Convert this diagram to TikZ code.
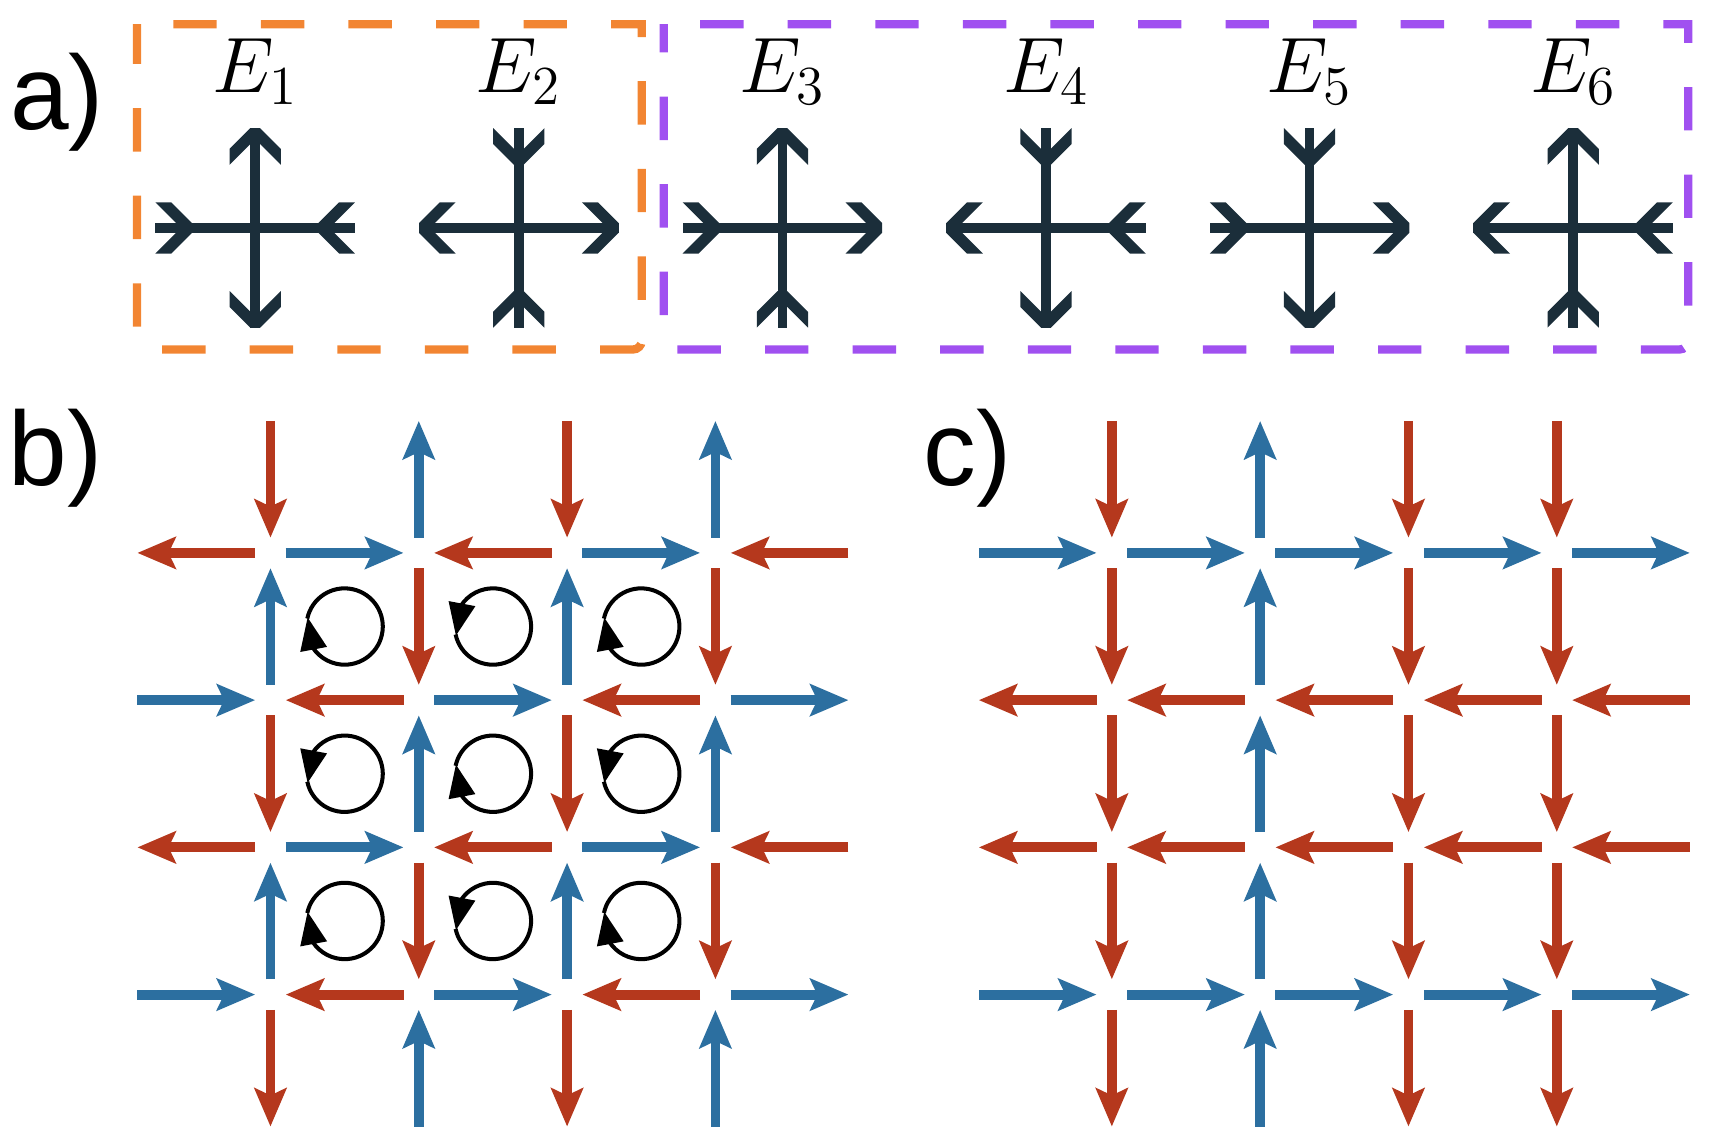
\RequirePackage{fix-cm}
\documentclass[tikz,border=0pt]{standalone}
\usepackage[no-math]{fontspec}
\newfontfamily\panelfont{Liberation Sans}
\usetikzlibrary{arrows.meta,bending,calc}

\definecolor{latred}{HTML}{B5381D}
\definecolor{latblue}{HTML}{2C6FA0}
\definecolor{ink}{HTML}{1B2E3A}
\definecolor{boxorange}{HTML}{F28532}
\definecolor{boxpurple}{HTML}{A050F0}

\tikzset{
  chev/.pic={\fill[ink] (-0.0445,0) -- (0.0445,0) -- (0.235,-0.1905) -- (0.235,-0.336)
    -- (0.0445,-0.1455) -- (-0.0445,-0.1455) -- (-0.235,-0.336) -- (-0.235,-0.1905) -- cycle;}
}

\begin{document}
\begin{tikzpicture}[
  panel/.style={font=\panelfont\fontsize{27.5}{30}\selectfont, anchor=base west, inner sep=0pt},
  elabel/.style={font=\fontsize{20.5}{24}\selectfont, anchor=base, inner sep=0pt},
  arm/.style={draw=ink, line width=0.089cm},
  dashbox/.style={draw=#1, line width=0.076cm,
    dash pattern=on 0.398cm off 0.405cm, dash phase=0.47cm},
  flux/.style={draw=#1, line width=0.09cm, shorten <=0.14cm, shorten >=0.14cm,
    -{Stealth[length=0.35cm, width=0.29cm, inset=0.065cm]}},
  vortex/.style={draw=black, line width=1.05pt, -{Triangle[length=0.3cm, width=0.24cm, flex]}}
]
  \useasboundingbox (0,0) rectangle (15.68,10.45);

  % panel labels
  \node[panel] (la) at (0.087,9.26) {a)};
  \node[panel] (lb) at (0.075,6.00) {b)};
  \node[panel] (lc) at (8.46,6.00) {c)};

  % a) vertex configurations
  \draw[dashbox=boxorange] (1.256,10.228) -- (5.884,10.228) [rounded corners=0.08cm]
    -- (5.884,7.245) -- (1.256,7.245) [sharp corners] -- cycle;
  \draw[dashbox=boxpurple] (6.087,10.228) -- (15.48,10.228) [rounded corners=0.08cm]
    -- (15.48,7.245) -- (6.087,7.245) [sharp corners] -- cycle;

  \foreach \k/\armU/\armD/\armL/\armR in {1/o/o/i/i, 2/i/i/o/o, 3/o/i/i/o, 4/i/o/o/i, 5/i/o/i/o, 6/o/i/o/i} {
    \coordinate (x\k) at ({2.34+2.417*(\k-1)}, 8.36);
    \node[elabel] (e\k) at ({2.34+2.417*(\k-1)}, 9.60) {$E_{\k}$};
    \foreach \ang/\how in {90/\armU, 270/\armD, 180/\armL, 0/\armR} {
      \draw[arm] (x\k) -- ([shift={(\ang:0.915)}]x\k);
      \if o\how
        \pic[rotate=\ang-90] at ([shift={(\ang:0.915)}]x\k) {chev};
      \else
        \pic[rotate=\ang+90] at ([shift={(\ang:0.579)}]x\k) {chev};
      \fi
    }
  }

  % lattice sites (outer ring only anchors the end arrows)
  \foreach \i in {0,...,5} \foreach \j in {0,...,5} {
    \coordinate (b-\i-\j) at ({1.12+1.36*\i}, {6.73-1.35*\j});
    \coordinate (c-\i-\j) at ({8.835+1.36*\i}, {6.73-1.35*\j});
  }

  % b) staggered arrows
  \foreach \i in {1,...,4} \foreach \j in {0,...,4} {
    \pgfmathtruncatemacro{\nxt}{\j+1}
    \pgfmathtruncatemacro{\parity}{mod(\i+\j,2)}
    \ifnum\parity=1
      \draw[flux=latred] (b-\i-\j) -- (b-\i-\nxt);
      \draw[flux=latred] (b-\nxt-\i) -- (b-\j-\i);
    \else
      \draw[flux=latblue] (b-\i-\nxt) -- (b-\i-\j);
      \draw[flux=latblue] (b-\j-\i) -- (b-\nxt-\i);
    \fi
  }

  % b) circulations
  \foreach \p in {1,2,3} \foreach \q in {1,2,3} {
    \pgfmathtruncatemacro{\pn}{\p+1}
    \pgfmathtruncatemacro{\qn}{\q+1}
    \pgfmathtruncatemacro{\parity}{mod(\p+\q,2)}
    \coordinate (o-\p-\q) at ($(b-\p-\q)!0.5!(b-\pn-\qn)$);
    \ifnum\parity=0
      \draw[vortex] ([shift={(168:0.35)}]o-\p-\q) arc[start angle=168, end angle=-194, radius=0.35];
    \else
      \draw[vortex] ([shift={(192:0.35)}]o-\p-\q) arc[start angle=192, end angle=554, radius=0.35];
    \fi
  }

  % c) uniform arrows
  \foreach \i/\vdir/\hdir in {1/1/0, 2/0/1, 3/1/1, 4/1/0} \foreach \j in {0,...,4} {
    \pgfmathtruncatemacro{\nxt}{\j+1}
    \ifnum\vdir=1 \draw[flux=latred] (c-\i-\j) -- (c-\i-\nxt);
    \else \draw[flux=latblue] (c-\i-\nxt) -- (c-\i-\j); \fi
    \ifnum\hdir=1 \draw[flux=latred] (c-\nxt-\i) -- (c-\j-\i);
    \else \draw[flux=latblue] (c-\j-\i) -- (c-\nxt-\i); \fi
  }
\end{tikzpicture}
\end{document}
